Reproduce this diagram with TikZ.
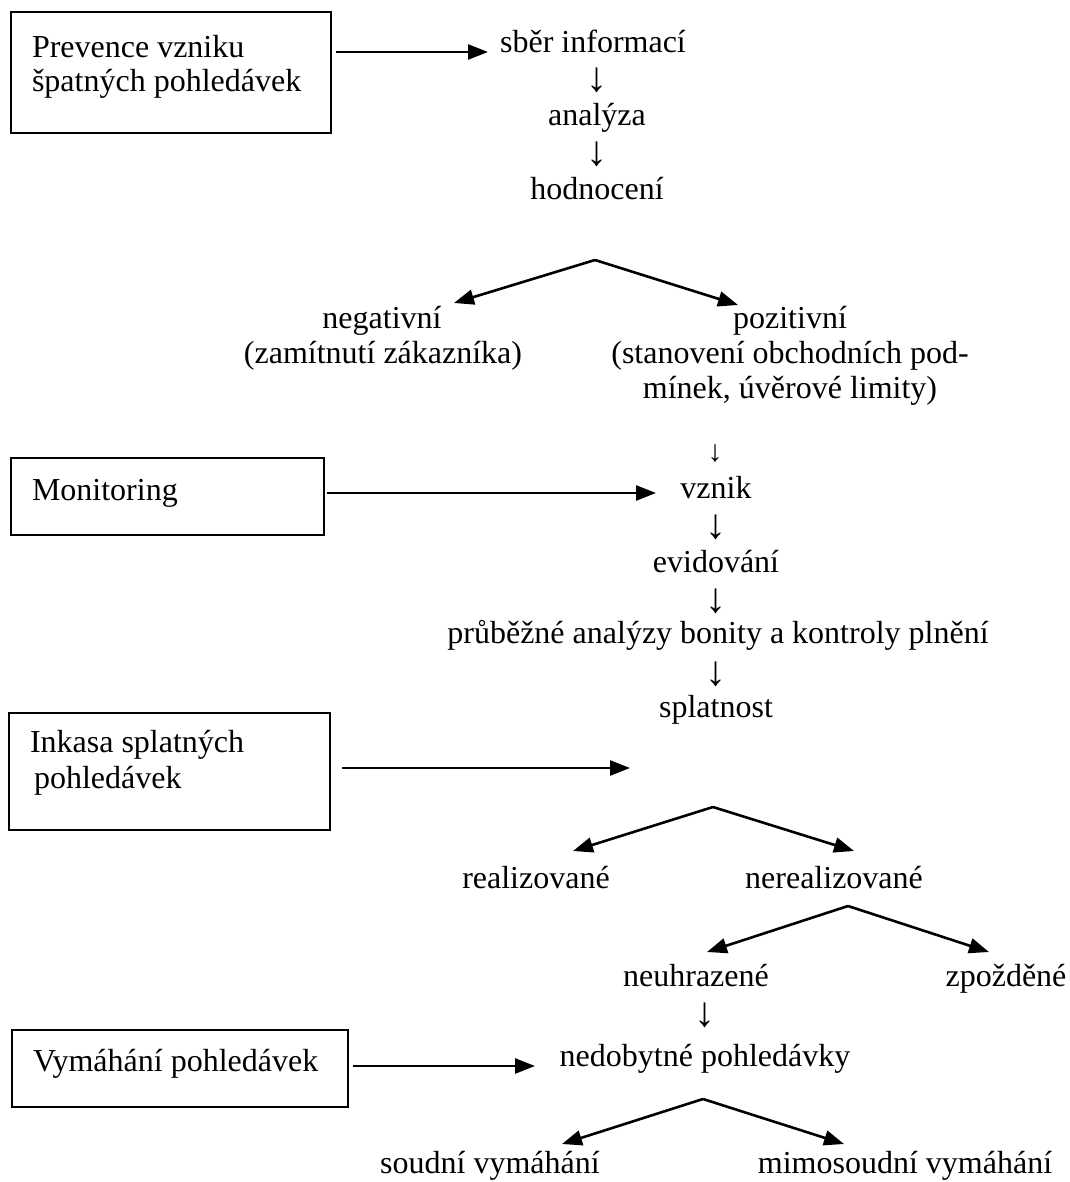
\documentclass[tikz,border=0pt]{standalone}
\usepackage{fontspec}
\setmainfont{Liberation Serif}
\usetikzlibrary{arrows.meta}
\begin{document}
\begin{tikzpicture}[x=1pt,y=-1pt,
  every node/.style={inner sep=0pt, outer sep=0pt, font=\fontsize{32}{35}\selectfont},
  lbl/.style={anchor=base},
  lblw/.style={anchor=base west},
  dn/.style={anchor=center, font=\fontsize{42}{44}\selectfont},
  dnsmall/.style={anchor=center, font=\fontsize{30}{32}\selectfont},
  boxnode/.style={draw, line width=1.7pt, anchor=north west},
  arr/.style={line width=2.6pt, -{Triangle[length=20pt,width=15pt]}}
]
\useasboundingbox (0,0) rectangle (1069,1182);

% ---------- Prevence ----------
\node[boxnode, minimum width=320pt, minimum height=121pt] (b1) at (11,12) {};
\node[lblw] (b1t1) at (32,58) {Prevence vzniku};
\node[lblw] (b1t2) at (32,92) {špatných pohledávek};
\coordinate (a1s) at (336,52);
\coordinate (a1e) at (488,52);
\draw[arr] (a1s) -- (a1e);

\node[lbl] (sber) at (593,53) {sběr informací};
\node[dn] (d1) at (597,80) {↓};
\node[lbl] (anal) at (597,126) {analýza};
\node[dn] (d2) at (597,154) {↓};
\node[lbl] (hodn) at (597,200) {hodnocení};

\coordinate (br1) at (595,260);
\coordinate (br1l) at (454,303);
\coordinate (br1r) at (738,305);
\draw[arr] (br1) -- (br1l);
\draw[arr] (br1) -- (br1r);

\node[lbl] (neg) at (382,328) {negativní};
\node[lbl] (zam) at (383,363) {(zamítnutí zákazníka)};
\node[lbl] (poz) at (790,328) {pozitivní};
\node[lbl] (stan) at (790,363) {(stanovení obchodních pod-};
\node[lbl] (mink) at (790,398) {mínek, úvěrové limity)};

% ---------- Monitoring ----------
\node[boxnode, minimum width=313pt, minimum height=77pt] (b2) at (11,458) {};
\node[lblw] (b2t) at (32,500) {Monitoring};
\coordinate (a2s) at (327,493);
\coordinate (a2e) at (656,493);
\draw[arr] (a2s) -- (a2e);

\node[dnsmall] (d3) at (715,454) {↓};
\node[lbl] (vznik) at (716,498) {vznik};
\node[dn] (d4) at (716,527) {↓};
\node[lbl] (evid) at (716,572) {evidování};
\node[dn] (d5) at (716,601) {↓};
\node[lbl] (prub) at (718,643) {průběžné analýzy bonity a kontroly plnění};
\node[dn] (d6) at (716,674) {↓};
\node[lbl] (splat) at (716,717) {splatnost};

% ---------- Inkasa ----------
\node[boxnode, minimum width=321pt, minimum height=117pt] (b3) at (9,713) {};
\node[lblw] (b3t1) at (30,752) {Inkasa splatných};
\node[lblw] (b3t2) at (34,788) {pohledávek};
\coordinate (a3s) at (342,768);
\coordinate (a3e) at (630,768);
\draw[arr] (a3s) -- (a3e);

\coordinate (br2) at (713,807);
\coordinate (br2l) at (573,851);
\coordinate (br2r) at (854,851);
\draw[arr] (br2) -- (br2l);
\draw[arr] (br2) -- (br2r);

\node[lbl] (real) at (536,888) {realizované};
\node[lbl] (nereal) at (834,888) {nerealizované};

\coordinate (br3) at (848,906);
\coordinate (br3l) at (707,952);
\coordinate (br3r) at (989,952);
\draw[arr] (br3) -- (br3l);
\draw[arr] (br3) -- (br3r);

\node[lbl] (neuh) at (696,986) {neuhrazené};
\node[lbl] (zpoz) at (1006,986) {zpožděné};
\node[dn] (d7) at (705,1015) {↓};
\node[lbl] (nedob) at (705,1066) {nedobytné pohledávky};

% ---------- Vymáhání ----------
\node[boxnode, minimum width=336pt, minimum height=77pt] (b4) at (12,1030) {};
\node[lblw] (b4t) at (33,1071) {Vymáhání pohledávek};
\coordinate (a4s) at (353,1066);
\coordinate (a4e) at (535,1066);
\draw[arr] (a4s) -- (a4e);

\coordinate (br4) at (703,1099);
\coordinate (br4l) at (562,1144);
\coordinate (br4r) at (844,1144);
\draw[arr] (br4) -- (br4l);
\draw[arr] (br4) -- (br4r);

\node[lbl] (soud) at (490,1173) {soudní vymáhání};
\node[lbl] (mimo) at (905,1173) {mimosoudní vymáhání};
\end{tikzpicture}
\end{document}
